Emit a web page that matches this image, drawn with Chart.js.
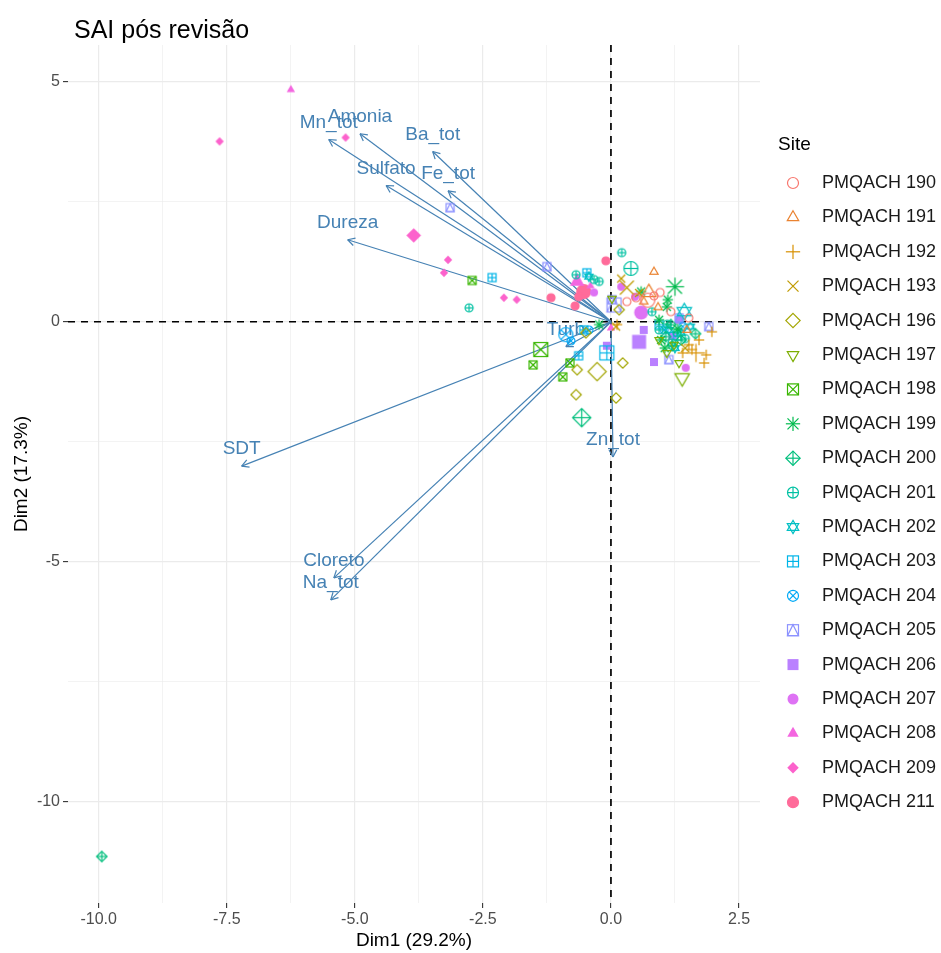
<!DOCTYPE html>
<html>
<head>
<meta charset="utf-8">
<title>SAI pós revisão</title>
<script src="https://cdn.jsdelivr.net/npm/chart.js@4"></script>
<style>
  html, body { margin: 0; padding: 0; background: #ffffff; }
  #wrap { width: 941px; height: 953px; }
</style>
</head>
<body>
<div id="wrap"><canvas id="biplot" width="941" height="953"></canvas></div>
<script>
// sites (grupos) e cores / formas no estilo ggplot
const sites = ['190', '191', '192', '193', '196', '197', '198', '199', '200', '201',
               '202', '203', '204', '205', '206', '207', '208', '209', '211'];
const siteColors = ['#F8766D', '#EA8331', '#D89000', '#C09B00', '#A3A500', '#7CAE00', '#39B600',
                    '#00BB4E', '#00BF7D', '#00C1A3', '#00BFC4', '#00B5E8', '#00A9F6', '#8C92FF',
                    '#BA80FF', '#DE72F4', '#F466E0', '#FC62CC', '#FF6B9A'];
const siteShapes = [1, 2, 3, 4, 5, 6, 7, 8, 9, 10, 11, 12, 13, 14, 15, 16, 17, 18, 19];

// individuos (Dim1, Dim2)
const pts190 = [[0.96, 0.61], [0.49, 0.50], [0.31, 0.42], [0.84, 0.54], [1.17, 0.21], [1.52, 0.08]];
const pts191 = [[0.84, 1.04], [0.64, 0.42], [1.48, -0.17], [0.92, 0.30]];
const pts192 = [[1.58, -0.58], [1.86, -0.69], [1.82, -0.86], [1.97, -0.21], [1.52, -0.48], [1.72, -0.38], [0.12, -0.06], [1.40, -0.65]];
const pts193 = [[0.55, 0.60], [0.10, -0.10], [1.45, -0.55], [0.20, 0.90]];
const pts196 = [[-0.49, -0.23], [-0.66, -1.00], [-0.68, -1.52], [0.23, -0.86], [0.10, -1.59], [0.16, 0.25]];
const pts197 = [[1.33, -0.86], [1.09, -0.65], [1.23, -0.48], [0.94, -0.38], [0.02, 0.48]];
const pts198 = [[-1.52, -0.90], [-0.80, -0.86], [-0.94, -1.15], [-2.71, 0.86]];
const pts199 = [[0.59, 0.63], [1.11, 0.46], [1.09, 0.31], [0.98, -0.38], [0.94, 0.04], [-0.23, -0.06], [1.30, -0.15], [1.05, -0.55]];
const pts200 = [[-9.94, -11.15], [1.07, -0.31], [1.17, -0.06], [1.37, -0.38], [1.20, -0.50], [1.65, -0.25]];
const pts201 = [[-2.77, 0.29], [0.21, 1.44], [-0.68, 0.98], [-0.33, 0.88], [-0.23, 0.84], [0.80, 0.21], [1.19, -0.44], [0.94, -0.17], [1.29, -0.23], [1.45, -0.35], [1.10, -0.05]];
const pts202 = [[1.37, -0.23], [1.13, -0.17], [-0.43, 0.94], [1.25, -0.55], [1.55, -0.10]];
const pts203 = [[-2.32, 0.92], [-0.47, 1.02], [-0.63, -0.71], [0.94, -0.06], [-0.53, -0.17], [1.30, -0.30]];
const pts204 = [[-0.78, -0.40], [-0.43, -0.17], [1.04, -0.17], [1.40, -0.10]];
const pts205 = [[-3.14, 2.38], [-1.25, 1.15], [0.02, 0.46], [1.13, -0.79], [1.91, -0.10], [1.33, 0.08]];
const pts206 = [[-0.08, -0.50], [0.84, -0.84], [1.33, 0.04], [0.64, -0.17], [1.20, -0.30]];
const pts207 = [[0.20, 0.73], [0.47, 0.52], [-0.33, 0.61], [1.46, -0.96]];
const pts208 = [[-6.25, 4.84], [0.00, -0.13], [-0.40, 0.75]];
const pts209 = [[-7.64, 3.76], [-5.18, 3.84], [-3.18, 1.29], [-3.26, 1.02], [-2.09, 0.50], [-1.84, 0.46]];
const pts211 = [[-0.10, 1.27], [-1.17, 0.50], [-0.70, 0.33], [-0.63, 0.52]];

const siteSeries = [pts190, pts191, pts192, pts193, pts196, pts197, pts198, pts199, pts200, pts201,
                    pts202, pts203, pts204, pts205, pts206, pts207, pts208, pts209, pts211];

// pontos médios de cada grupo (símbolos grandes)
const siteMeans = [[0.72, 0.45], [0.74, 0.61], [1.66, -0.65], [0.31, 0.71], [-0.27, -1.04], [1.39, -1.17],
                   [-1.37, -0.58], [1.25, 0.73], [-0.57, -2.00], [0.39, 1.11], [1.43, 0.21], [-0.08, -0.65],
                   [-0.88, -0.27], [0.06, 0.35], [0.55, -0.42], [0.59, 0.19], [-0.66, 0.84], [-3.85, 1.80],
                   [-0.53, 0.63]];

// variáveis (setas)
const varNames = ['Mn_tot', 'Amonia', 'Ba_tot', 'Sulfato', 'Fe_tot', 'Dureza', 'SDT', 'Cloreto', 'Na_tot', 'Zn_tot', 'Turb'];
const varDim1 = [-5.51, -4.90, -3.48, -4.39, -3.18, -5.14, -7.21, -5.41, -5.47, 0.04, -0.88];
const varDim2 = [3.80, 3.92, 3.55, 2.84, 2.73, 1.71, -3.01, -5.34, -5.80, -2.82, -0.52];

// ticks
const xTicks = [-10, -7.5, -5, -2.5, 0, 2.5];
const yTicks = [-10, -5, 0, 5];

const FONT = '"Liberation Sans", Arial, sans-serif';
const ARROW = '#4682B4';

const withMinor = (ticks, lo, hi) => {
    const out = [];
    const step = ticks[1] - ticks[0];
    for (let v = ticks[0] - step / 2; v <= ticks[ticks.length - 1] + step / 2 + 1e-9; v += step / 2) {
        if (v >= lo && v <= hi) out.push(Math.round(v * 1000) / 1000);
    }
    return out;
};
const isMajor = (ticks, v) => ticks.some(t => Math.abs(t - v) < 1e-6);

const X_MIN = -10.6, X_MAX = 2.91, Y_MIN = -12.12, Y_MAX = 5.77;
const xGrid = withMinor(xTicks, X_MIN, X_MAX);
const yGrid = withMinor(yTicks, Y_MIN, Y_MAX);

// desenha uma forma pch do R centrada em (0,0)
function drawShape(ctx, pch, r, color) {
    ctx.strokeStyle = color;
    ctx.fillStyle = color;
    ctx.lineWidth = 1.2;
    const path = pts => {
        ctx.beginPath();
        pts.forEach(([a, b], i) => (i ? ctx.lineTo(a, b) : ctx.moveTo(a, b)));
        ctx.closePath();
    };
    const line = (a, b, c, d) => { ctx.beginPath(); ctx.moveTo(a, b); ctx.lineTo(c, d); ctx.stroke(); };
    const circle = () => { ctx.beginPath(); ctx.arc(0, 0, r, 0, Math.PI * 2); };
    const R = r * 1.2, D = r * 1.3;
    const triUp = [[0, -R], [R * 0.866, R * 0.5], [-R * 0.866, R * 0.5]];
    const triDown = [[0, R], [R * 0.866, -R * 0.5], [-R * 0.866, -R * 0.5]];
    const diamond = [[0, -D], [D, 0], [0, D], [-D, 0]];
    const k = r * 0.707;
    switch (pch) {
        case 1: circle(); ctx.stroke(); break;
        case 2: path(triUp); ctx.stroke(); break;
        case 3: line(-D, 0, D, 0); line(0, -D, 0, D); break;
        case 4: line(-r, -r, r, r); line(-r, r, r, -r); break;
        case 5: path(diamond); ctx.stroke(); break;
        case 6: path(triDown); ctx.stroke(); break;
        case 7: ctx.strokeRect(-r, -r, 2 * r, 2 * r); line(-r, -r, r, r); line(-r, r, r, -r); break;
        case 8: line(-D, 0, D, 0); line(0, -D, 0, D); line(-r, -r, r, r); line(-r, r, r, -r); break;
        case 9: path(diamond); ctx.stroke(); line(-D, 0, D, 0); line(0, -D, 0, D); break;
        case 10: circle(); ctx.stroke(); line(-r, 0, r, 0); line(0, -r, 0, r); break;
        case 11: path(triUp); ctx.stroke(); path(triDown); ctx.stroke(); break;
        case 12: ctx.strokeRect(-r, -r, 2 * r, 2 * r); line(-r, 0, r, 0); line(0, -r, 0, r); break;
        case 13: circle(); ctx.stroke(); line(-k, -k, k, k); line(-k, k, k, -k); break;
        case 14: ctx.strokeRect(-r, -r, 2 * r, 2 * r); path([[0, -r], [r, r], [-r, r]]); ctx.stroke(); break;
        case 15: ctx.fillRect(-r, -r, 2 * r, 2 * r); break;
        case 16: circle(); ctx.fill(); break;
        case 17: path(triUp); ctx.fill(); break;
        case 18: path([[0, -r * 1.05], [r * 1.05, 0], [0, r * 1.05], [-r * 1.05, 0]]); ctx.fill(); break;
        default: circle(); ctx.fill(); ctx.stroke(); break;
    }
}

function shapeImage(pch, color, r) {
    const size = Math.ceil(r * 3 + 4);
    const c = document.createElement('canvas');
    c.width = size;
    c.height = size;
    const g = c.getContext('2d');
    g.translate(size / 2, size / 2);
    drawShape(g, pch, r, color);
    return c;
}

const datasets = [];
sites.forEach((s, i) => {
    datasets.push({
        label: 'PMQACH ' + s,
        data: siteSeries[i].map(([a, b]) => ({ x: a, y: b })),
        pointStyle: shapeImage(siteShapes[i], siteColors[i], 4),
        pointRadius: 4
    });
    datasets.push({
        label: 'PMQACH ' + s + ' média',
        data: [{ x: siteMeans[i][0], y: siteMeans[i][1] }],
        pointStyle: shapeImage(siteShapes[i], siteColors[i], 7),
        pointRadius: 8
    });
});

const biplotExtras = {
    id: 'biplotExtras',
    beforeDatasetsDraw(chart) {
        const { ctx, chartArea: a, scales: { x, y } } = chart;
        const x0 = x.getPixelForValue(0), y0 = y.getPixelForValue(0);
        const line = (p, q, r, s) => { ctx.beginPath(); ctx.moveTo(p, q); ctx.lineTo(r, s); ctx.stroke(); };
        ctx.save();
        // linhas tracejadas em zero
        ctx.strokeStyle = '#000000';
        ctx.lineWidth = 1.7;
        ctx.setLineDash([7, 6]);
        line(a.left, y0, a.right, y0);
        line(x0, a.top, x0, a.bottom);
        ctx.setLineDash([]);
        // setas das variáveis
        ctx.strokeStyle = ARROW;
        ctx.lineWidth = 1.2;
        varNames.forEach((name, i) => {
            const tx = x.getPixelForValue(varDim1[i]), ty = y.getPixelForValue(varDim2[i]);
            line(x0, y0, tx, ty);
            const ang = Math.atan2(ty - y0, tx - x0);
            [-0.5, 0.5].forEach(d => line(tx, ty, tx - 8 * Math.cos(ang + d), ty - 8 * Math.sin(ang + d)));
        });
        ctx.fillStyle = ARROW;
        ctx.font = '19px ' + FONT;
        ctx.textAlign = 'center';
        ctx.textBaseline = 'middle';
        varNames.forEach((name, i) => {
            ctx.fillText(name, x.getPixelForValue(varDim1[i]), y.getPixelForValue(varDim2[i]) - 17);
        });
        ctx.restore();
    },
    afterDraw(chart) {
        const { ctx } = chart;
        ctx.save();
        // título
        ctx.fillStyle = '#000000';
        ctx.font = '25px ' + FONT;
        ctx.textAlign = 'left';
        ctx.textBaseline = 'alphabetic';
        ctx.fillText('SAI pós revisão', 74, 38);
        // legenda
        ctx.font = '19px ' + FONT;
        ctx.textBaseline = 'middle';
        ctx.fillText('Site', 778, 145);
        ctx.font = '18px ' + FONT;
        sites.forEach((s, i) => {
            const cy = 183 + i * 34.4;
            ctx.save();
            ctx.translate(793, cy);
            drawShape(ctx, siteShapes[i], 5.5, siteColors[i]);
            ctx.restore();
            ctx.fillStyle = '#1A1A1A';
            ctx.fillText('PMQACH ' + s, 822, cy);
        });
        ctx.restore();
    }
};

const gridStyle = ticks => ({
    color: '#EBEBEB',
    lineWidth: c => (c.tick && isMajor(ticks, c.tick.value) ? 1.2 : 0.6),
    drawTicks: true,
    tickLength: 5,
    tickWidth: 1.1,
    tickColor: c => (c.tick && isMajor(ticks, c.tick.value) ? '#333333' : 'rgba(0,0,0,0)')
});

new Chart(document.getElementById('biplot'), {
    type: 'scatter',
    data: { datasets },
    options: {
        responsive: false,
        animation: false,
        devicePixelRatio: 1,
        events: [],
        layout: { padding: { top: 45, right: 181, left: 0, bottom: 0 } },
        plugins: {
            legend: { display: false },
            tooltip: { enabled: false },
            title: { display: false }
        },
        scales: {
            x: {
                type: 'linear',
                min: X_MIN,
                max: X_MAX,
                afterBuildTicks: s => { s.ticks = xGrid.map(v => ({ value: v })); },
                afterFit: s => { s.height = 50; },
                border: { display: false },
                grid: gridStyle(xTicks),
                ticks: {
                    autoSkip: false,
                    maxRotation: 0,
                    padding: 2,
                    color: '#4D4D4D',
                    font: { size: 16, family: FONT },
                    callback: v => (isMajor(xTicks, v) ? v.toFixed(1) : '')
                },
                title: {
                    display: true,
                    text: 'Dim1 (29.2%)',
                    color: '#000000',
                    font: { size: 19, family: FONT },
                    padding: { top: 0, bottom: 1 }
                }
            },
            y: {
                type: 'linear',
                min: Y_MIN,
                max: Y_MAX,
                afterBuildTicks: s => { s.ticks = yGrid.map(v => ({ value: v })); },
                afterFit: s => { s.width = 68; },
                border: { display: false },
                grid: gridStyle(yTicks),
                ticks: {
                    autoSkip: false,
                    padding: 3,
                    color: '#4D4D4D',
                    font: { size: 16, family: FONT },
                    callback: v => (isMajor(yTicks, v) ? String(v) : '')
                },
                title: {
                    display: true,
                    text: 'Dim2 (17.3%)',
                    color: '#000000',
                    font: { size: 19, family: FONT },
                    padding: { top: 10, bottom: 0 }
                }
            }
        }
    },
    plugins: [biplotExtras]
});
</script>
</body>
</html>
